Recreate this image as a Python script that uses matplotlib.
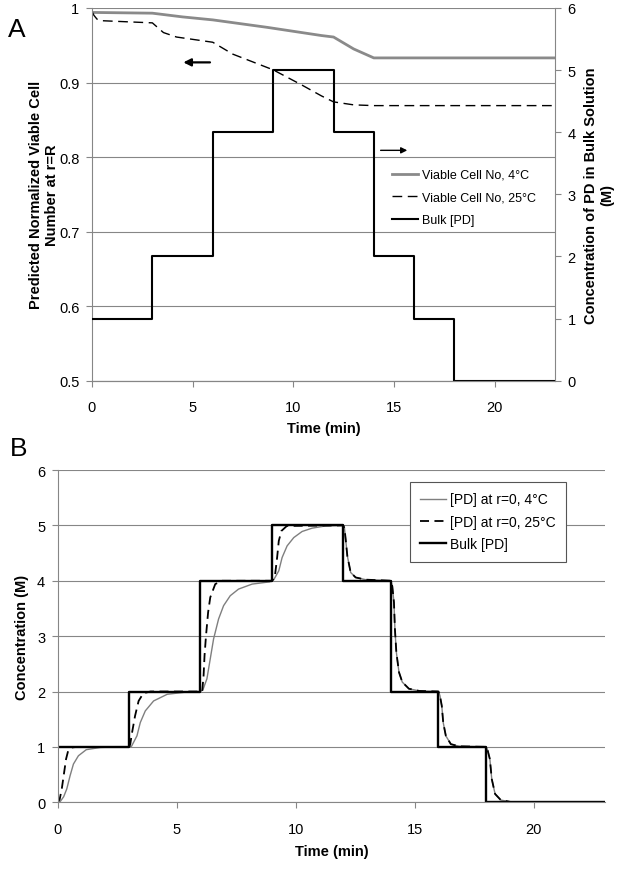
import matplotlib
matplotlib.use("Agg")
import matplotlib.pyplot as plt
from matplotlib.ticker import FuncFormatter

plt.rcParams['font.family'] = ['Liberation Sans', 'DejaVu Sans']

# bulk [PD] steps (both panels)
bulk_t = [0, 3, 6, 9, 12, 14, 16, 18, 23]
bulk_c = [1, 2, 4, 5, 4, 2, 1, 0, 0]

# panel A: normalized viable cell number at r=R
viab4_t = [0, 3.0, 4.5, 6.0, 8.7, 11.4, 12.0, 13.0, 14.0, 23]
viab4_v = [0.994, 0.993, 0.988, 0.984, 0.974, 0.963, 0.961, 0.945, 0.933, 0.933]
viab25_t = [0, 0.1, 0.25, 0.4, 3.0, 3.55, 4.2, 6.0, 7.0, 9.0, 10.4, 11.4, 12.0, 13.0, 14.0, 23]
viab25_v = [0.995, 0.99, 0.985, 0.983, 0.98, 0.967, 0.961, 0.954, 0.938, 0.917, 0.897,
            0.882, 0.874, 0.870, 0.869, 0.869]

# panel B: [PD] at r=0
drop_t = [12.05, 12.1, 12.17, 12.31, 12.52, 12.94, 14.0,
          14.06, 14.13, 14.17, 14.23, 14.34, 14.48, 14.76, 15.2, 16.0,
          16.06, 16.14, 16.2, 16.31, 16.52, 16.87, 18.0,
          18.06, 18.16, 18.24, 18.38, 18.62, 19.1, 23]
drop_c = [4.95, 4.75, 4.45, 4.15, 4.06, 4.02, 4.0,
          3.9, 3.61, 3.13, 2.71, 2.35, 2.17, 2.05, 2.01, 2.0,
          1.93, 1.74, 1.44, 1.2, 1.05, 1.01, 1.0,
          0.95, 0.78, 0.42, 0.15, 0.04, 0.0, 0.0]

r0_4_t = [0, 0.1, 0.25, 0.38, 0.52, 0.66, 0.87, 1.2, 1.8, 2.5, 3.0,
          3.1, 3.33, 3.47, 3.68, 4.03, 4.6, 5.4, 6.0,
          6.1, 6.27, 6.41, 6.55, 6.76, 6.97, 7.25, 7.6, 8.17, 8.9, 9.0,
          9.08, 9.29, 9.43, 9.64, 9.92, 10.27, 10.69, 11.25, 12.0] + drop_t
r0_4_c = [0, 0.01, 0.1, 0.24, 0.48, 0.69, 0.84, 0.95, 0.99, 1.0, 1.0,
          1.01, 1.2, 1.44, 1.65, 1.83, 1.95, 1.99, 2.0,
          2.03, 2.23, 2.59, 2.95, 3.31, 3.55, 3.73, 3.85, 3.94, 3.98, 4.0,
          4.02, 4.18, 4.42, 4.63, 4.78, 4.89, 4.95, 4.99, 5.0] + drop_c

r0_25_t = [0, 0.08, 0.17, 0.27, 0.35, 0.45, 0.6, 0.8, 3.0,
           3.05, 3.1, 3.25, 3.4, 3.6, 3.9, 6.0,
           6.07, 6.13, 6.17, 6.23, 6.32, 6.41, 6.62, 6.9, 9.0,
           9.05, 9.12, 9.22, 9.29, 9.4, 9.63, 12.0] + drop_t
r0_25_c = [0, 0.05, 0.24, 0.54, 0.78, 0.95, 0.99, 1.0, 1.0,
           1.05, 1.2, 1.56, 1.83, 1.97, 2.0, 2.0,
           2.0, 2.29, 2.65, 3.0, 3.43, 3.7, 3.94, 4.0, 4.0,
           4.02, 4.06, 4.42, 4.72, 4.9, 4.99, 5.0] + drop_c

GRID = '#868686'
xticks = [0, 5, 10, 15, 20]


def style_axis(ax):
    ax.tick_params(direction='out', length=4, width=0.8, color=GRID,
                   labelsize=10.5, pad=5)
    ax.tick_params(axis='x', pad=10)
    for s in ax.spines.values():
        s.set_color(GRID)
        s.set_linewidth(0.8)


fig = plt.figure(figsize=(6.24, 8.70), dpi=100)

# ---------------- panel A ----------------
axA = fig.add_axes([0.1474, 0.5613, 0.742, 0.4284])
axA2 = axA.twinx()
axA.set_xlim(0, 23)
axA.set_ylim(0.5, 1.0)
axA.set_yticks([0.5, 0.6, 0.7, 0.8, 0.9, 1.0])
axA.yaxis.set_major_formatter(FuncFormatter(lambda v, p: '%g' % round(v, 2)))
axA.set_xticks(xticks)
axA.yaxis.grid(True, color=GRID, lw=0.8)
axA.set_axisbelow(True)
style_axis(axA)
style_axis(axA2)
axA.spines['top'].set_visible(False)
axA.spines['right'].set_visible(False)
axA2.spines['top'].set_visible(False)
axA2.spines['left'].set_visible(False)
axA2.set_ylim(0, 6)
axA2.set_yticks(range(7))

l1, = axA.plot(viab4_t, viab4_v, color='#8a8a8a', lw=2.0)
l2, = axA.plot(viab25_t, viab25_v, color='black', lw=1.0, dashes=(7, 4))
l3, = axA2.plot(bulk_t, bulk_c, color='black', lw=1.5, drawstyle='steps-post')

axA.annotate('', xy=(4.4, 0.927), xytext=(6.0, 0.927),
             arrowprops=dict(arrowstyle='-|>', color='black', lw=1.6, mutation_scale=11))
axA.annotate('', xy=(15.8, 0.809), xytext=(14.2, 0.809),
             arrowprops=dict(arrowstyle='-|>', color='black', lw=1.0, mutation_scale=9))

axA.set_xlabel('Time (min)', fontsize=10.5, fontweight='bold', labelpad=5)
axA.set_ylabel('Predicted Normalized Viable Cell\nNumber at r=R', fontsize=10.5,
               fontweight='bold', labelpad=0)
axA2.set_ylabel('Concentration of PD in Bulk Solution\n(M)', fontsize=10.5,
                fontweight='bold', labelpad=6)

fig.legend([l1, l2, l3], ['Viable Cell No, 4°C', 'Viable Cell No, 25°C', 'Bulk [PD]'],
           loc='upper left', bbox_to_anchor=(392 / 624, 1 - 170 / 870),
           frameon=False, fontsize=9, borderpad=0, borderaxespad=0,
           handlelength=2.1, handletextpad=0.3, labelspacing=0.85)

fig.text(8 / 624, 1 - 37 / 870, 'A', fontsize=19, va='baseline')

# ---------------- panel B ----------------
axB = fig.add_axes([0.0925, 0.0767, 0.8771, 0.3819])
axB.set_xlim(0, 23)
axB.set_ylim(0, 6)
axB.set_xticks(xticks)
axB.set_yticks(range(7))
axB.yaxis.grid(True, color=GRID, lw=0.8)
axB.set_axisbelow(True)
style_axis(axB)
axB.spines['top'].set_visible(False)
axB.spines['right'].set_visible(False)

b1, = axB.plot(r0_4_t, r0_4_c, color='#7f7f7f', lw=1.0)
b2, = axB.plot(r0_25_t, r0_25_c, color='black', lw=1.3, dashes=(5, 3))
b3, = axB.plot(bulk_t, bulk_c, color='black', lw=1.7, drawstyle='steps-post')

axB.set_xlabel('Time (min)', fontsize=10.5, fontweight='bold', labelpad=6)
axB.set_ylabel('Concentration (M)', fontsize=10.5, fontweight='bold', labelpad=6)

legB = fig.legend([b1, b2, b3], ['[PD] at r=0, 4°C', '[PD] at r=0, 25°C', 'Bulk [PD]'],
                  loc='upper left', bbox_to_anchor=(410 / 624, 1 - 483 / 870),
                  fontsize=10, borderpad=0.75, borderaxespad=0, fancybox=False,
                  framealpha=1, edgecolor='#555555', handlelength=1.85,
                  handletextpad=0.3, labelspacing=0.6)
legB.get_frame().set_linewidth(0.8)

fig.text(10 / 624, 1 - 456 / 870, 'B', fontsize=19, va='baseline')

fig.savefig('out.png', dpi=100)
